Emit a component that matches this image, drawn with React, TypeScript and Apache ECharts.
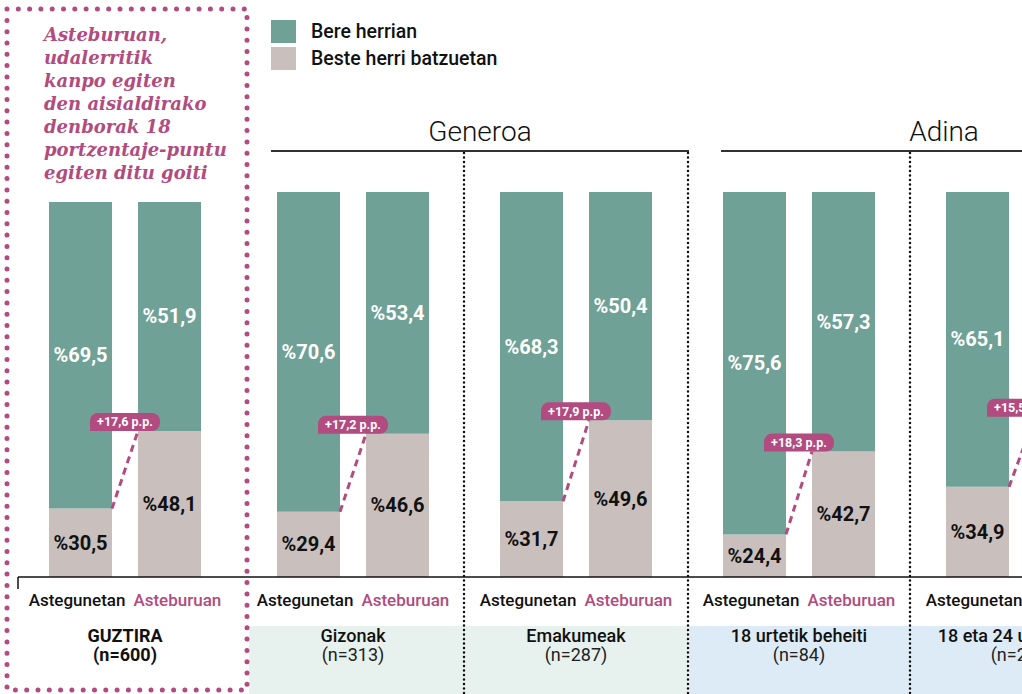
import React, { useEffect, useRef } from "react";
import * as echarts from "echarts";

// ---- data ----
const groups = ["GUZTIRA", "Gizonak", "Emakumeak", "18 urtetik beheiti", "18 eta 24 urte artean"];
const sampleSizes = ["(n=600)", "(n=313)", "(n=287)", "(n=84)", "(n=208)"];
const weekdayOther = [30.5, 29.4, 31.7, 24.4, 34.9];
const weekdayHome = [69.5, 70.6, 68.3, 75.6, 65.1];
const weekendOther = [48.1, 46.6, 49.6, 42.7, 50.4];
const weekendHome = [51.9, 53.4, 50.4, 57.3, 49.6];
const gapPoints = [17.6, 17.2, 17.9, 18.3, 15.5];
const dayLabels = ["Astegunetan", "Asteburuan"];
const legendNames = ["Bere herrian", "Beste herri batzuetan"];
const sectionTitles = ["Generoa", "Adina"];
const noteText = "Asteburuan,\nudalerritik\nkanpo egiten\nden aisialdirako\ndenborak 18\nportzentaje-puntu\negiten ditu goiti";

const GREEN = "#70a196";
const BEIGE = "#c9c0bd";
const PINK = "#b14b80";
const FONT = "Roboto, 'Noto Sans', sans-serif";

const fmt = (v: number) => v.toFixed(1).replace(".", ",");

export default function App() {
  const ref = useRef<HTMLDivElement>(null);
  useEffect(() => {
    if (!ref.current) return;
    const chart = echarts.init(ref.current, null, { renderer: "svg" });

    const barCommon = (name: string, stack: string, data: number[], axis: number, isHome: boolean) => ({
      type: "bar",
      name,
      stack,
      data,
      xAxisIndex: axis,
      yAxisIndex: axis,
      barWidth: 63,
      barGap: "41.27%",
      clip: true,
      itemStyle: { color: isHome ? GREEN : BEIGE },
      label: {
        show: true,
        position: "inside",
        formatter: (p: any) => "%" + fmt(p.value),
        color: isHome ? "#ffffff" : "#111111",
        fontFamily: FONT,
        fontWeight: "bold",
        fontSize: 20,
      },
    });

    const pillSeries = (axis: number, idx: number[]) => ({
      type: "custom",
      xAxisIndex: axis,
      yAxisIndex: axis,
      clip: false,
      z: 5,
      data: idx.map((i, k) => [k, weekdayOther[i], weekendOther[i], gapPoints[i]]),
      renderItem: (params: any, api: any) => {
        const cat = api.value(0);
        const p1 = api.coord([cat, api.value(1)]);
        const p2 = api.coord([cat, api.value(2)]);
        const cx = p1[0];
        const half = 13;
        return {
          type: "group",
          children: [
            {
              type: "line",
              shape: { x1: cx - half, y1: p1[1], x2: cx + half, y2: p2[1] },
              style: { stroke: PINK, lineWidth: 3, lineDash: [7, 5] },
            },
            {
              type: "rect",
              shape: { x: cx - 35, y: p2[1] - 18, width: 70, height: 18, r: [8, 8, 8, 0] },
              style: { fill: PINK },
            },
            {
              type: "text",
              style: {
                text: "+" + fmt(api.value(3)) + " p.p.",
                x: cx,
                y: p2[1] - 9,
                align: "center",
                verticalAlign: "middle",
                fill: "#ffffff",
                font: "bold 12.5px " + FONT,
              },
            },
          ],
        };
      },
    });

    const richStyles = {
      a: { color: "#111", fontFamily: FONT, fontWeight: 500, fontSize: 17, lineHeight: 20 },
      b: { color: PINK, fontFamily: FONT, fontWeight: 500, fontSize: 17, lineHeight: 20, padding: [0, 0, 0, 8] },
      s: { fontSize: 4, lineHeight: 16 },
      g: { color: "#111", fontFamily: FONT, fontWeight: 500, fontSize: 18, lineHeight: 19 },
      gb: { color: "#111", fontFamily: FONT, fontWeight: "bold", fontSize: 18, lineHeight: 19 },
      n: { color: "#222", fontFamily: FONT, fontWeight: 400, fontSize: 18, lineHeight: 19 },
    };

    const xAxisFor = (cats: string[], ns: string[], gridIndex: number, bold: boolean) => ({
      type: "category",
      gridIndex,
      data: cats,
      axisLine: { show: false },
      axisTick: { show: false },
      axisLabel: {
        interval: 0,
        margin: 13,
        verticalAlign: "top",
        formatter: (v: string, i: number) =>
          `{a|${dayLabels[0]}}{b|${dayLabels[1]}}\n{s| }\n{${bold ? "gb" : "g"}|${v}}\n{${bold ? "gb" : "n"}|${ns[i]}}`,
        rich: richStyles,
      },
    });

    const dotted = (x: number) => ({
      type: "line",
      shape: { x1: x, y1: 153, x2: x, y2: 694 },
      style: { stroke: "#111", lineWidth: 2.5, lineDash: [0, 4.5], lineCap: "round" },
      z: 10,
    });

    const option: any = {
      animation: false,
      legend: {
        orient: "vertical",
        left: 271,
        top: 20,
        padding: 0,
        itemWidth: 25,
        itemHeight: 23,
        itemGap: 4,
        icon: "rect",
        data: legendNames,
        textStyle: { fontFamily: FONT, fontSize: 19.5, fontWeight: 500, color: "#111", padding: [0, 0, 0, 10] },
        selectedMode: false,
      },
      grid: [
        { left: 18, width: 214, top: 202, bottom: 117 },
        { left: 241.5, width: 892, top: 192, bottom: 117 },
      ],
      xAxis: [
        xAxisFor(groups.slice(0, 1), sampleSizes.slice(0, 1), 0, true),
        xAxisFor(groups.slice(1), sampleSizes.slice(1), 1, false),
      ],
      yAxis: [
        { type: "value", gridIndex: 0, min: 15, max: 100, show: false },
        { type: "value", gridIndex: 1, min: 15, max: 100, show: false },
      ],
      series: [
        barCommon(legendNames[1], "wd", weekdayOther.slice(0, 1), 0, false),
        barCommon(legendNames[0], "wd", weekdayHome.slice(0, 1), 0, true),
        barCommon(legendNames[1], "we", weekendOther.slice(0, 1), 0, false),
        barCommon(legendNames[0], "we", weekendHome.slice(0, 1), 0, true),
        barCommon(legendNames[1], "wd2", weekdayOther.slice(1), 1, false),
        barCommon(legendNames[0], "wd2", weekdayHome.slice(1), 1, true),
        barCommon(legendNames[1], "we2", weekendOther.slice(1), 1, false),
        barCommon(legendNames[0], "we2", weekendHome.slice(1), 1, true),
        pillSeries(0, [0]),
        pillSeries(1, [1, 2, 3, 4]),
      ],
      graphic: [
        { type: "rect", z: -10, shape: { x: 249, y: 626, width: 439, height: 68 }, style: { fill: "#e7f1ed" } },
        { type: "rect", z: -10, shape: { x: 689, y: 626, width: 511, height: 68 }, style: { fill: "#ddebf6" } },
        dotted(464),
        dotted(688),
        dotted(910),
        { type: "line", shape: { x1: 271, y1: 151, x2: 689, y2: 151 }, style: { stroke: "#333", lineWidth: 2 } },
        { type: "line", shape: { x1: 721, y1: 151, x2: 1200, y2: 151 }, style: { stroke: "#333", lineWidth: 2 } },
        {
          type: "text",
          x: 480,
          y: 131,
          style: { text: sectionTitles[0], align: "center", verticalAlign: "middle", font: "300 28px " + FONT, fill: "#111" },
        },
        {
          type: "text",
          x: 944,
          y: 131,
          style: { text: sectionTitles[1], align: "center", verticalAlign: "middle", font: "300 28px " + FONT, fill: "#111" },
        },
        { type: "line", z: 8, shape: { x1: 18, y1: 577, x2: 1200, y2: 577 }, style: { stroke: "#111", lineWidth: 1.5 } },
        { type: "line", z: 8, shape: { x1: 18, y1: 577, x2: 18, y2: 589 }, style: { stroke: "#111", lineWidth: 1.5 } },
        {
          type: "text",
          x: 44,
          y: 23,
          style: {
            text: noteText,
            font: "italic bold 18px 'DejaVu Serif', serif",
            lineHeight: 23,
            fill: PINK,
            verticalAlign: "top",
          },
        },
        {
          type: "rect",
          z: 100,
          shape: { x: 7, y: 9, width: 240, height: 681 },
          style: { fill: "none", stroke: PINK, lineWidth: 5, lineDash: [0, 11.3], lineCap: "round" },
        },
      ],
    };
    chart.setOption(option);
    return () => chart.dispose();
  }, []);
  return (
    <div
      ref={ref}
      style={{ position: "fixed", left: 0, top: 0, width: 1200, height: 694, background: "#fff" }}
    />
  );
}
